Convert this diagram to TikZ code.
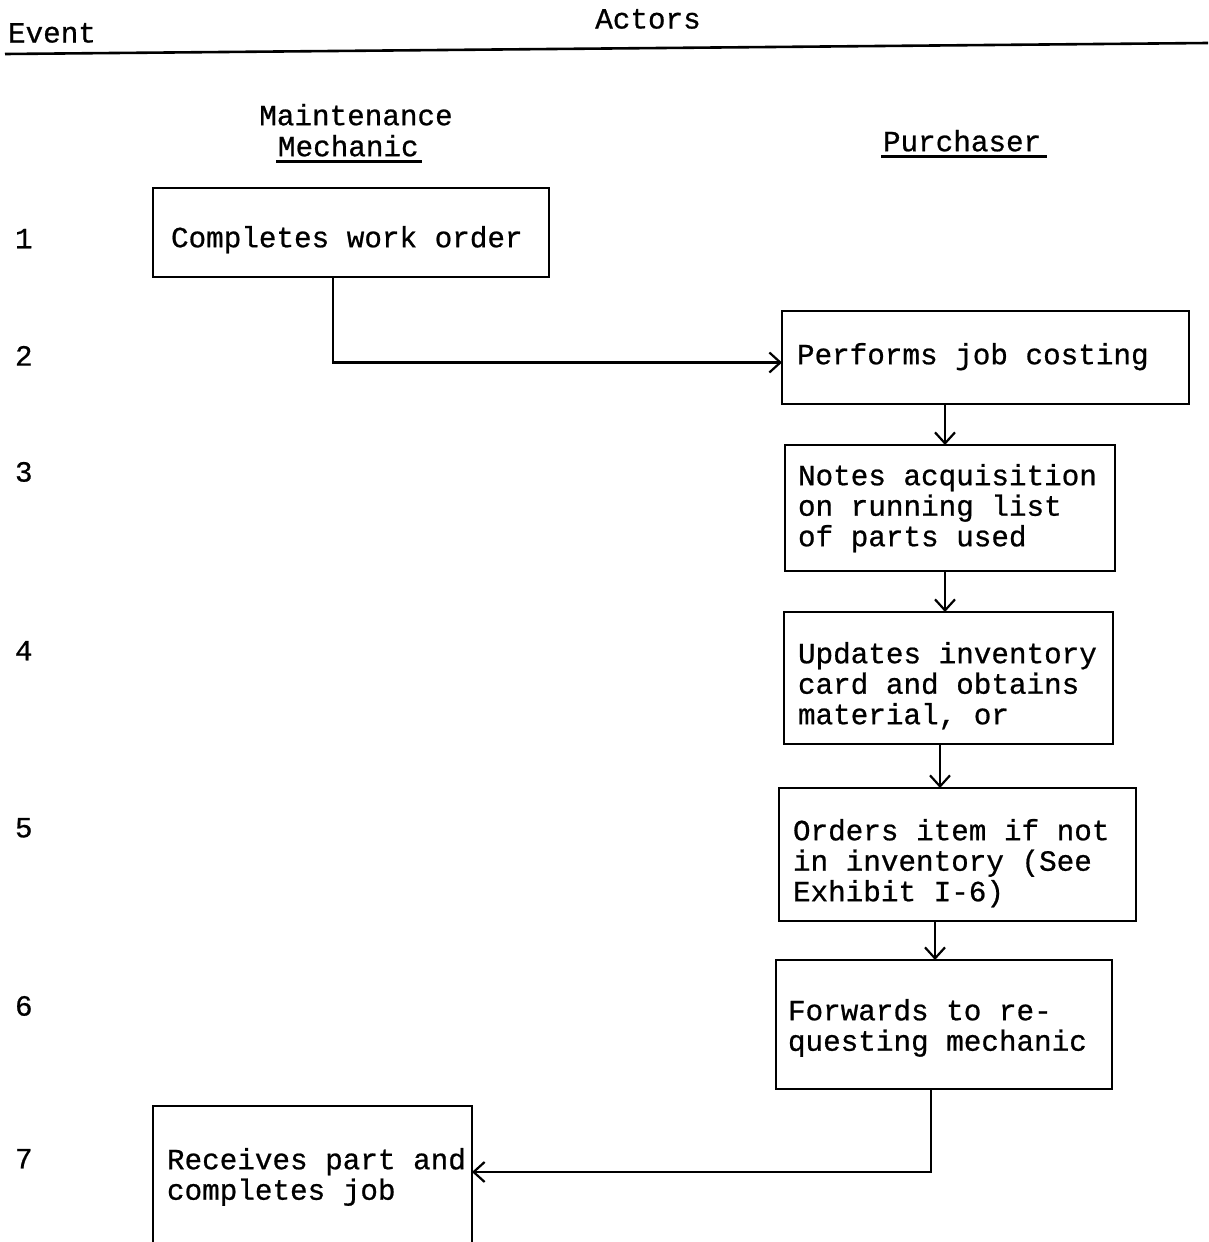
\documentclass[tikz,border=0pt]{standalone}
\usepackage{fontspec}
\setmainfont{Liberation Mono}[FakeBold=0.7]
\usetikzlibrary{arrows.meta}
\begin{document}
\begin{tikzpicture}[x=1pt,y=-1pt,
  every node/.style={inner sep=0pt,outer sep=0pt,font=\fontsize{29.3}{30.5}\selectfont},
  txt/.style={anchor=north west,align=left},
  box/.style={draw,line width=2.4pt,rectangle,anchor=north west},
  arr/.style={line width=2.4pt,-{Straight Barb[length=11pt,width=20pt,line width=2.2pt]}},
  rule/.style={line width=2.6pt}]
\useasboundingbox (0,0) rectangle (1208,1242);
\clip (0,0) rectangle (1208,1242);

% header
\node[txt] (hEvent) at (8,23) {Event};
\node[anchor=north] (hActors) at (648,9) {Actors};
\coordinate (rl) at (5,54);
\coordinate (rr) at (1208,43);
\draw[rule] (rl) -- (rr);

% actor columns
\node[anchor=north] (hMaint) at (356,104) {Maintenance};
\node[txt] (hMech) at (278,135) {Mechanic};
\node[txt] (hPurch) at (883,130) {Purchaser};
\draw[line width=2.4pt] ([xshift=-2pt,yshift=-5pt]hMech.south west) -- ([xshift=3pt,yshift=-5pt]hMech.south east);
\draw[line width=2.4pt] ([xshift=-2pt,yshift=-5pt]hPurch.south west) -- ([xshift=6pt,yshift=-5pt]hPurch.south east);

% event numbers
\node[txt] (e1) at (15,229) {1};
\node[txt] (e2) at (15,346) {2};
\node[txt] (e3) at (15,462) {3};
\node[txt] (e4) at (15,641) {4};
\node[txt] (e5) at (15,818) {5};
\node[txt] (e6) at (15,996) {6};
\node[txt] (e7) at (15,1149) {7};

% step boxes
\node[box,minimum width=396pt,minimum height=89pt] (b1) at (153,188) {};
\node[box,minimum width=407pt,minimum height=93pt] (b2) at (782,311) {};
\node[box,minimum width=330pt,minimum height=126pt] (b3) at (785,445) {};
\node[box,minimum width=329pt,minimum height=132pt] (b4) at (784,612) {};
\node[box,minimum width=357pt,minimum height=133pt] (b5) at (779,788) {};
\node[box,minimum width=336pt,minimum height=129pt] (b6) at (776,960) {};
\node[box,minimum width=319pt,minimum height=170pt] (b7) at (153,1106) {};

% box texts
\node[txt] (t1) at (171,226) {Completes work order};
\node[txt] (t2) at (797,343) {Performs job costing};
\node[txt] (t3) at (798,464) {Notes acquisition\\on running list\\of parts used};
\node[txt] (t4) at (798,642) {Updates inventory\\card and obtains\\material, or};
\node[txt] (t5) at (793,819) {Orders item if not\\in inventory (See\\Exhibit I-6)};
\node[txt] (t6) at (788,999) {Forwards to re-\\questing mechanic};
\node[txt] (t7) at (167,1148) {Receives part and\\completes job};

% connectors
\draw[arr] (b1.south -| 333,0) |- ([yshift=-5pt]b2.west);
\draw[arr] (b2.south -| 945,0) -- (b3.north -| 945,0);
\draw[arr] (b3.south -| 945,0) -- (b4.north -| 945,0);
\draw[arr] (b4.south -| 940,0) -- (b5.north -| 940,0);
\draw[arr] (b5.south -| 935,0) -- (b6.north -| 935,0);
\draw[arr] (b6.south -| 931,0) |- (b7.east |- 0,1172);
\end{tikzpicture}
\end{document}
